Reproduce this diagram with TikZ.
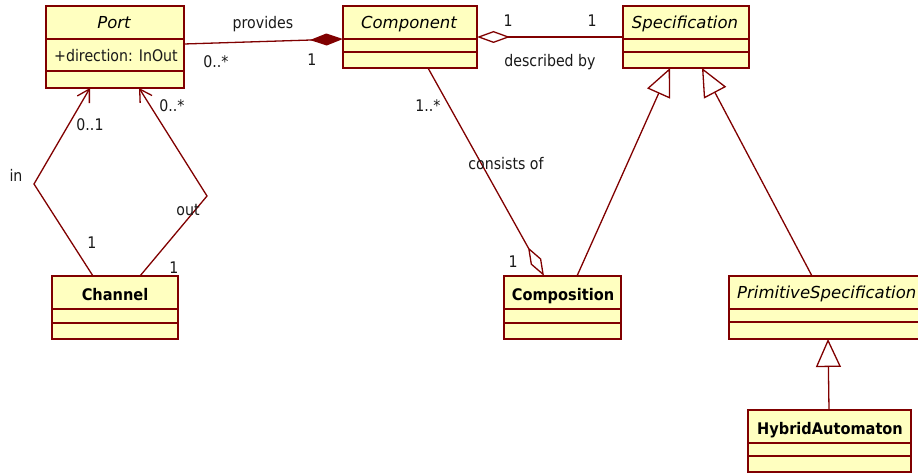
\documentclass[tikz,border=0pt]{standalone}
\usepackage{fontspec}
\setmainfont{DejaVu Sans}
\newfontfamily\lblfont[FakeStretch=0.885]{DejaVu Sans}
\newfontfamily\boldfont[FakeStretch=0.91]{DejaVu Sans}
\usetikzlibrary{arrows.meta,calc}
\definecolor{umlred}{RGB}{128,0,0}
\definecolor{umlfill}{RGB}{255,255,192}
\tikzset{
  classbox/.style={draw=umlred, fill=umlfill, line width=1.3pt, inner sep=0pt, outer sep=0pt},
  classline/.style={draw=umlred, line width=1.3pt},
  lbl/.style={font=\lblfont\fontsize{16}{19}\selectfont, text=black!90, anchor=base, inner sep=0pt},
  ttlit/.style={font=\fontsize{16.5}{19}\selectfont\itshape, text=black, anchor=base, inner sep=0pt},
  ttlbf/.style={font=\boldfont\fontsize{16}{19}\selectfont\bfseries, text=black, anchor=base, inner sep=0pt},
  conn/.style={draw=umlred, line width=1.3pt},
  filldia/.style={{Diamond[length=33pt,width=12pt,fill=umlred,line width=1.3pt]}-},
  opendia/.style={{Diamond[length=33pt,width=12pt,fill=white,line width=1.3pt]}-},
  gen/.style={-{Triangle[length=28pt,width=25pt,fill=white,line width=1.3pt]}},
  nav/.style={-{Straight Barb[length=12pt,width=14pt,line width=1.3pt]}},
}
\newcommand\umlclass[7]{%
  \node[classbox, minimum width={#4-#2}, minimum height={#7-#3}, anchor=north west] (#1) at (#2,#3) {};
  \draw[classline] ($(#1.north west)+(0,#5-#3)$) -- ($(#1.north east)+(0,#5-#3)$);
  \draw[classline] ($(#1.north west)+(0,#6-#3)$) -- ($(#1.north east)+(0,#6-#3)$);
}
\begin{document}
\begin{tikzpicture}[x=1pt,y=-1pt]
\path[use as bounding box] (0,0) rectangle (918,473);

% classes
\umlclass{Port}{46}{6}{184}{39}{71}{88}
\umlclass{Component}{343}{6}{477}{39}{52}{68}
\umlclass{Specification}{623}{6}{749}{39}{52}{68}
\umlclass{Channel}{52}{276}{178}{309}{323}{339}
\umlclass{Composition}{504}{276}{621}{309}{323}{339}
\umlclass{PrimSpec}{729}{276}{925}{309}{322}{339}
\umlclass{Hybrid}{748}{410}{911}{443}{456}{472}

\node[ttlit] (Port-t) at (114,29) {Port};
\node[lbl, anchor=base west] (Port-a) at (54,62) {+direction: InOut};
\node[ttlit] (Component-t) at (409,29) {Component};
\node[ttlit] (Specification-t) at (685,29) {Specification};
\node[ttlbf] (Channel-t) at (115,300) {Channel};
\node[ttlbf] (Composition-t) at (563,300) {Composition};
\node[ttlit, anchor=base west] (PrimSpec-t) at (737,298) {PrimitiveSpecification};
\node[ttlbf] (Hybrid-t) at (830,434) {HybridAutomaton};

% connectors
\draw[conn, filldia] ($(Component.north west)+(0,33)$) -- ($(Port.north east)+(0,38)$);
\draw[conn, opendia] (Component.east) -- (Specification.west);
\draw[conn, nav] ($(Channel.north west)+(41,0)$) -- (34,184) -- ($(Port.south west)+(44,0)$);
\draw[conn, nav] ($(Channel.north west)+(88,0)$) -- (207,196) -- ($(Port.south west)+(93,0)$);
\draw[conn, opendia] ($(Composition.north west)+(40,0)$) -- ($(Component.south west)+(85,0)$);
\draw[conn, gen] ($(Composition.north west)+(73,0)$) -- ($(Specification.south west)+(47,0)$);
\draw[conn, gen] ($(PrimSpec.north west)+(83,0)$) -- ($(Specification.south west)+(79,0)$);
\draw[conn, gen] ($(Hybrid.north west)+(81,0)$) -- ($(PrimSpec.south west)+(99,0)$);

% labels
\node[lbl] (l-provides) at (263,29) {provides};
\node[lbl] (l-pm1) at (216,68) {0..*};
\node[lbl] (l-pm2) at (312,66) {1};
\node[lbl] (l-d1) at (508,27) {1};
\node[lbl] (l-d2) at (592,27) {1};
\node[lbl] (l-desc) at (550,67) {described by};
\node[lbl] (l-in) at (16,182) {in};
\node[lbl] (l-in1) at (90,131) {0..1};
\node[lbl] (l-in2) at (92,248) {1};
\node[lbl] (l-out) at (188,215) {out};
\node[lbl] (l-out1) at (172,112) {0..*};
\node[lbl] (l-out2) at (174,273) {1};
\node[lbl] (l-c1) at (428,112) {1..*};
\node[lbl] (l-cons) at (506,170) {consists of};
\node[lbl] (l-c2) at (513,267) {1};
\end{tikzpicture}
\end{document}
